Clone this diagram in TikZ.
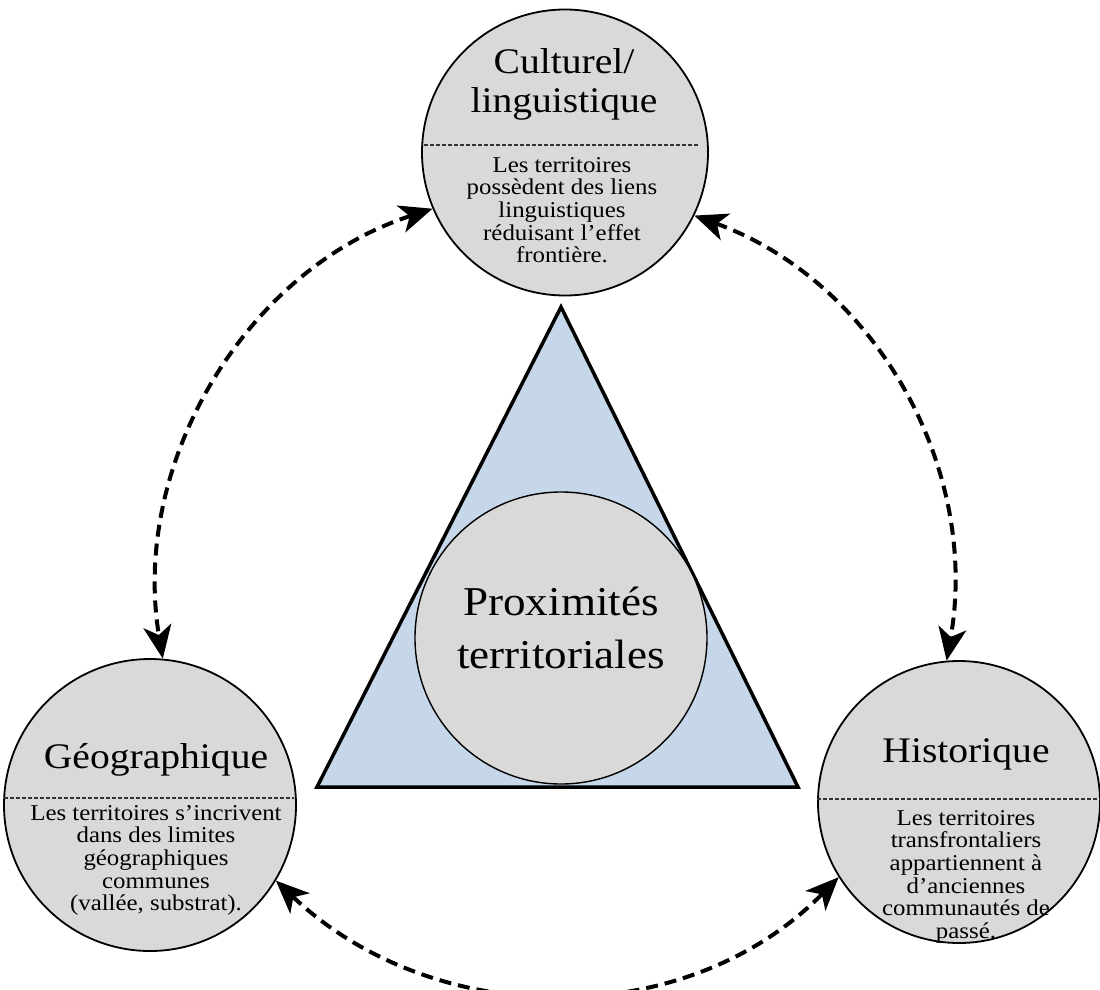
\documentclass[tikz,border=0pt]{standalone}
\usepackage{fontspec}
\setmainfont{Liberation Serif}[FakeStretch=1.1]
\usetikzlibrary{arrows.meta}
\definecolor{bubblegray}{HTML}{D9D9D9}
\definecolor{triblue}{HTML}{C5D7E8}
\newcommand\mylines[2]{\parbox[t]{#1}{\centering #2}}
\begin{document}
\begin{tikzpicture}[x=1pt,y=1pt,
  bubble/.style={circle, draw=black, line width=1.8pt, fill=bubblegray, minimum size=#1, inner sep=0pt},
  tri/.style={draw=black, line width=3.5pt, fill=triblue, line join=miter},
  sep/.style={draw=black!80, line width=1.2pt, dash pattern=on 4pt off 2pt},
  link/.style={line width=4pt, dash pattern=on 12pt off 7pt,
    arrows={Stealth[length=33pt,width=28pt,inset=9pt]-Stealth[length=33pt,width=28pt,inset=9pt]}},
  titletxt/.style={anchor=base, inner sep=0pt, font=\fontsize{36}{39}\selectfont},
  bodytxt/.style={anchor=base, inner sep=0pt, font=\fontsize{22.6}{22.7}\selectfont},
  coretxt/.style={anchor=base, inner sep=0pt, font=\fontsize{41}{53}\selectfont}
]
\useasboundingbox (0,0) rectangle (1100,-990);

% central triangle
\coordinate (apex) at (561,-307);
\coordinate (bl) at (317,-787);
\coordinate (br) at (798,-787);
\draw[tri] (apex) -- (bl) -- (br) -- cycle;

% circles
\node[bubble=292pt, line width=1.4pt] (core) at (561,-638) {};
\node[bubble=286pt] (top) at (565,-152.5) {};
\node[bubble=292pt] (left) at (150,-805) {};
\node[bubble=282pt] (right) at (959,-802) {};

% separators
\draw[sep] ([xshift=3pt]top.west |- 0,-145) -- ([xshift=-10pt]top.east |- 0,-145);
\draw[sep] ([xshift=1pt]left.west |- 0,-798) -- ([xshift=-3pt]left.east |- 0,-798);
\draw[sep] ([xshift=0pt]right.west |- 0,-799) -- ([xshift=0pt]right.east |- 0,-799);

% texts
\node[titletxt] (ttop) at (564,-74) {\mylines{300pt}{Culturel/\\linguistique}};
\node[bodytxt] (btop) at (562,-172) {\mylines{300pt}{Les territoires\\possèdent des liens\\linguistiques\\réduisant l’effet\\frontière.}};
\node[titletxt] (tleft) at (156,-768) {\mylines{300pt}{Géographique}};
\node[bodytxt] (bleft) at (156,-820) {\mylines{300pt}{Les territoires s’incrivent\\dans des limites\\géographiques\\communes\\(vallée, substrat).}};
\node[titletxt] (tright) at (966,-762) {\mylines{300pt}{Historique}};
\node[bodytxt] (bright) at (966,-825) {\mylines{300pt}{Les territoires\\transfrontaliers\\appartiennent à\\d’anciennes\\communautés de\\passé.}};
\node[coretxt] (tcore) at (561,-615) {\mylines{300pt}{Proximités\\territoriales}};

% connectors
\draw[link] (top.203) .. controls +(198:197) and +(99.5:197) .. (left.85);
\draw[link] (top.334) .. controls +(340:194) and +(80:194) .. (right.95);
\draw[link] (left.329) .. controls +(316.5:218) and +(225.5:218) .. (right.212);
\end{tikzpicture}
\end{document}
